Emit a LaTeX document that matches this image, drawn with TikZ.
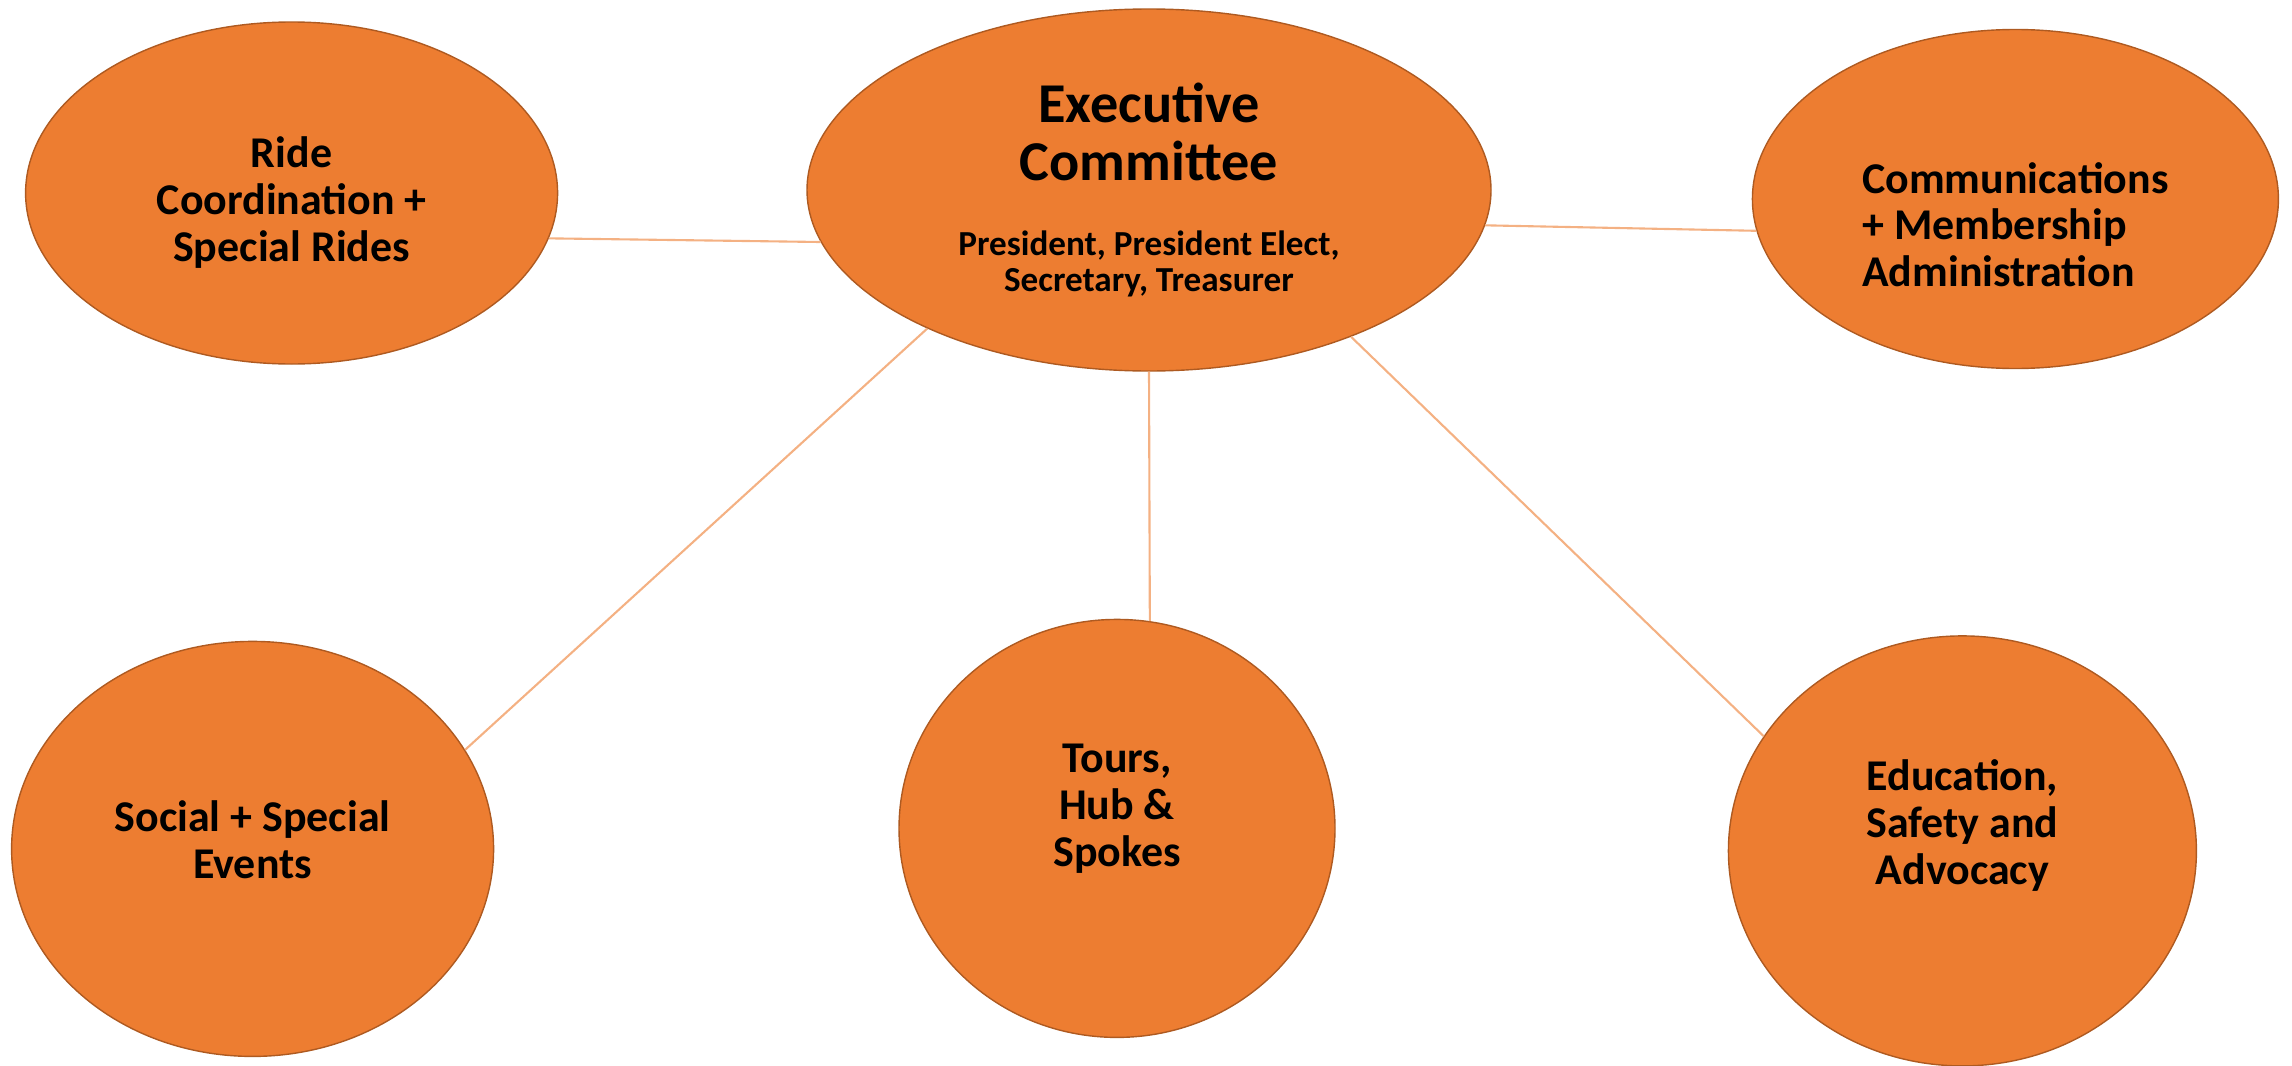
\documentclass[tikz,border=0pt]{standalone}
\usepackage{fontspec}
\setmainfont{Carlito}
\usepackage{tikz}
\usetikzlibrary{positioning,shapes.geometric}
\definecolor{unitfill}{HTML}{ED7D31}
\definecolor{unitline}{HTML}{AE5A21}
\definecolor{linkline}{HTML}{F4B183}

\begin{document}
\begin{tikzpicture}[
  unit/.style={ellipse, draw=unitline, line width=0.4pt, fill=unitfill,
               align=center, inner sep=1mm,
               font=\bfseries\fontsize{12.5}{13.3}\selectfont},
  link/.style={draw=linkline, line width=0.6pt}
]
\useasboundingbox (0,0) rectangle (22.92,-10.656);
\node[unit, minimum width=6.84cm, minimum height=3.62cm,
      font=\bfseries\fontsize{16}{16.6}\selectfont] (exec) at (11.49,-1.90)
  {Executive\\Committee\\[4.6pt]
   \fontsize{10}{10.2}\selectfont President, President Elect,\\[-6.4pt]
   \fontsize{10}{10.2}\selectfont Secretary, Treasurer};
\node[unit, minimum width=5.32cm, minimum height=3.42cm, left=2.48cm of exec, yshift=-0.3mm] (ride)
  {\rule{0pt}{0.5cm}Ride\\Coordination +\\Special Rides};
\node[unit, minimum width=5.26cm, minimum height=3.39cm, right=2.6cm of exec, yshift=-0.9mm,
      align=left] (comm)
  {\rule{0pt}{0.82cm}Communications\\+ Membership\\Administration};
\node[unit, minimum width=4.82cm, minimum height=4.15cm, below=2.76cm of ride, xshift=-3.9mm] (social)
  {Social + Special\\Events\rule[-0.18cm]{0pt}{0pt}};
\node[unit, minimum width=4.36cm, minimum height=4.18cm, below=2.47cm of exec, xshift=-3.2mm] (tours)
  {Tours,\\Hub \&\\Spokes\rule[-0.46cm]{0pt}{0pt}};
\node[unit, minimum width=4.68cm, minimum height=4.30cm, below=2.66cm of comm, xshift=-5.3mm] (edu)
  {Education,\\Safety and\\Advocacy\rule[-0.58cm]{0pt}{0pt}};
\draw[link] (ride.-10)  -- (exec.189);
\draw[link] (exec.-6)   -- (comm.187);
\draw[link] (exec.212)  -- (social.25);
\draw[link] (exec.south) -- (tours.81);
\draw[link] (exec.-36)  -- (edu.150);
\end{tikzpicture}
\end{document}
